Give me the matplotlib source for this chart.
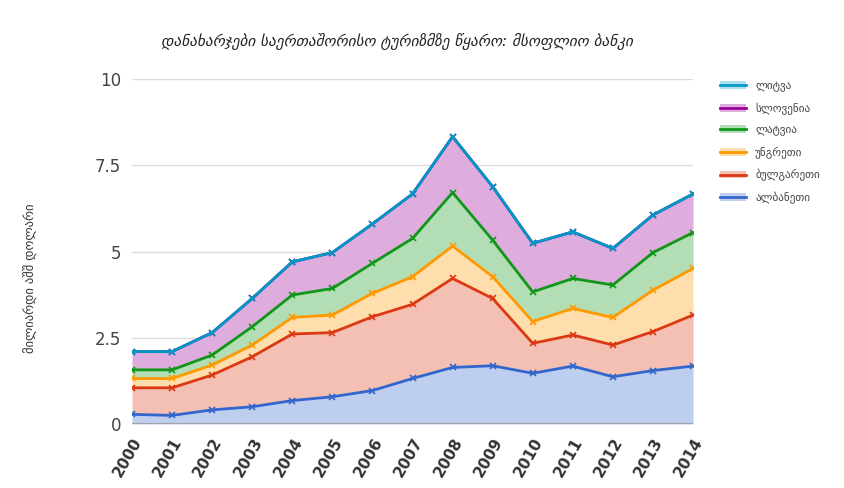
import matplotlib.pyplot as plt
import numpy as np
from matplotlib.colors import to_rgb
from matplotlib.patches import Patch
from matplotlib.lines import Line2D

plt.rcParams['font.family'] = ['DejaVu Sans']

# Data (billion USD, stacked)
years = [2000, 2001, 2002, 2003, 2004, 2005, 2006, 2007,
         2008, 2009, 2010, 2011, 2012, 2013, 2014]
albania = [0.28, 0.25, 0.41, 0.50, 0.68, 0.79, 0.97, 1.32, 1.64, 1.69, 1.47, 1.68, 1.37, 1.55, 1.68]
bulgaria = [0.77, 0.80, 1.01, 1.45, 1.93, 1.86, 2.14, 2.15, 2.58, 1.95, 0.87, 0.90, 0.92, 1.13, 1.48]
hungary = [0.27, 0.27, 0.29, 0.34, 0.48, 0.51, 0.68, 0.80, 0.94, 0.63, 0.63, 0.77, 0.80, 1.20, 1.35]
latvia = [0.25, 0.25, 0.29, 0.53, 0.65, 0.77, 0.87, 1.11, 1.55, 1.06, 0.86, 0.87, 0.94, 1.09, 1.04]
slovenia = [0.53, 0.53, 0.65, 0.82, 0.96, 1.04, 1.14, 1.29, 1.62, 1.55, 1.41, 1.35, 1.06, 1.09, 1.12]
lithuania = [0] * 15

series = [albania, bulgaria, hungary, latvia, slovenia, lithuania]
labels = ['ალბანეთი', 'ბულგარეთი', 'უნგრეთი', 'ლატვია', 'სლოვენია', 'ლიტვა']
colors = ['#3366cc', '#dc3912', '#ff9900', '#109618', '#990099', '#0099c6']

title = 'დანახარჯები საერთაშორისო ტურიზმზე წყარო: მსოფლიო ბანკი'
ylabel = 'მილიარდი აშშ დოლარი'


def light(c, a=0.32):
    # colour blended with white, so the grid stays hidden under the areas
    r, g, b = to_rgb(c)
    return (1 - a + a * r, 1 - a + a * g, 1 - a + a * b)


fig = plt.figure(figsize=(8.44, 4.88), dpi=100)
ax = fig.add_axes([0.1564, 0.1311, 0.6647, 0.7069])
ax.set_axisbelow(True)

# stacked areas
bottom = np.zeros(len(years))
tops = []
for vals, c in zip(series, colors):
    top = bottom + np.array(vals)
    ax.fill_between(years, bottom, top, color=light(c), linewidth=0, zorder=2)
    tops.append(top)
    bottom = top

handles = []
for top, c in zip(tops, colors):
    ax.plot(years, top, color=c, linewidth=2, marker='x', markersize=5,
            markeredgewidth=1.2, zorder=3)
    handles.append((Patch(facecolor=light(c), linewidth=0),
                    Line2D([], [], color=c, linewidth=2)))

ax.set_xlim(2000, 2014)
ax.set_ylim(0, 10)
ax.set_yticks([0, 2.5, 5, 7.5, 10])
ax.set_yticklabels(['0', '2.5', '5', '7.5', '10'], fontsize=12, color='#444444')
ax.set_xticks(years)
ax.set_xticklabels([str(y) for y in years], rotation=60, ha='right',
                   rotation_mode='anchor', fontsize=11, fontweight='bold', color='#333333')
ax.tick_params(length=0, pad=8)
ax.grid(axis='y', color='#dddddd', linewidth=1)
ax.axhline(0, color='#999999', linewidth=1.2, zorder=4)
for s in ax.spines.values():
    s.set_visible(False)

fig.text(0.47, 0.915, title, ha='center', va='center', fontsize=11,
         style='italic', color='#222222')
fig.text(0.037, 0.43, ylabel, rotation=90, ha='center', va='center',
         fontsize=9, color='#333333')

# legend, top entry is the last series
ax.legend(handles[::-1], labels[::-1], loc='upper left', bbox_to_anchor=(1.01, 1.055),
          frameon=False, fontsize=8, labelcolor='#444444', handlelength=2.4,
          labelspacing=0.95, borderaxespad=1.5)

fig.savefig('out.png', dpi=100)
